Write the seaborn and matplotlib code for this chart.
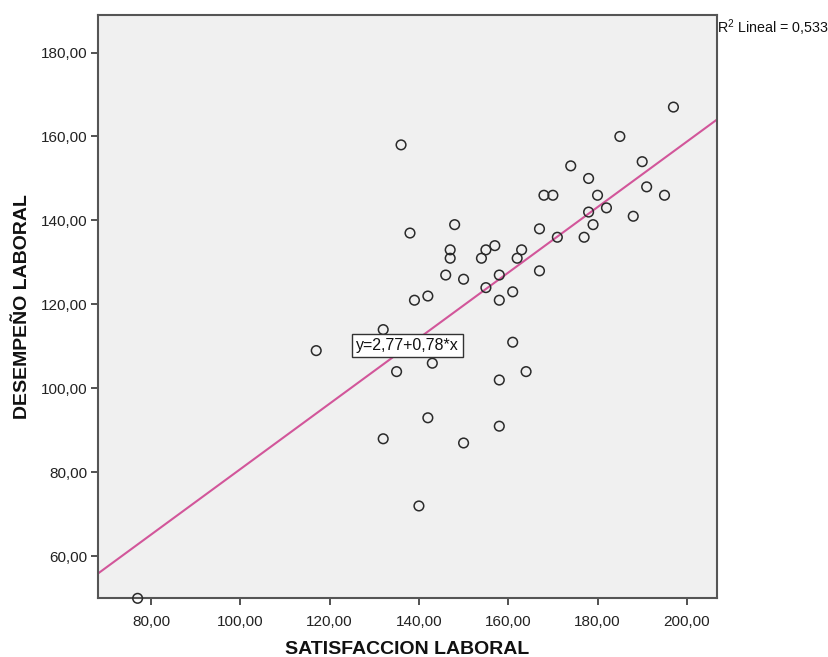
import numpy as np
import pandas as pd
import matplotlib
matplotlib.use("Agg")
import matplotlib.pyplot as plt
import seaborn as sns
from matplotlib.ticker import FuncFormatter

satisfaccion = [197, 185, 174, 190, 178, 168, 170, 180, 191, 195,
                178, 182, 188, 179, 167, 171, 177, 148, 138, 136,
                157, 155, 154, 147, 147, 163, 162, 158, 146, 167,
                150, 155, 161, 139, 142, 158, 132, 117, 135, 132,
                77, 161, 143, 164, 158, 142, 158, 150, 140]
desempeno = [167, 160, 153, 154, 150, 146, 146, 146, 148, 146,
             142, 143, 141, 139, 138, 136, 136, 139, 137, 158,
             134, 133, 131, 133, 131, 133, 131, 127, 127, 128,
             126, 124, 123, 121, 122, 121, 114, 109, 104, 88,
             50, 111, 106, 104, 102, 93, 91, 87, 72]

intercept = 2.77
slope = 0.78
r2 = "0,533"
x_ticks = [80, 100, 120, 140, 160, 180, 200]
y_ticks = [60, 80, 100, 120, 140, 160, 180]

df = pd.DataFrame({"SATISFACCION LABORAL": satisfaccion,
                   "DESEMPEÑO LABORAL": desempeno})

sns.set_style("ticks")
plt.rcParams["font.family"] = ["Liberation Sans", "DejaVu Sans"]

fig = plt.figure(figsize=(8.29, 6.57), dpi=100)
ax = fig.add_axes([0.1186, 0.0893, 0.746, 0.8883])
ax.set_facecolor("#F0F0F0")

xlim = (68.2, 206.7)
ylim = (50.0, 189.0)

# fit line
xs = np.array(xlim)
ax.plot(xs, intercept + slope * xs, color="#D2569A", lw=1.5, zorder=2)

sns.scatterplot(data=df, x="SATISFACCION LABORAL", y="DESEMPEÑO LABORAL",
                ax=ax, marker="o", s=48, facecolor="none",
                edgecolor="#2a2a2a", linewidth=1.1, zorder=3, clip_on=False)

ax.set_xlim(*xlim)
ax.set_ylim(*ylim)
ax.set_xticks(x_ticks)
ax.set_yticks(y_ticks)
fmt = FuncFormatter(lambda v, p: f"{v:.2f}".replace(".", ","))
ax.xaxis.set_major_formatter(fmt)
ax.yaxis.set_major_formatter(fmt)
ax.tick_params(axis="both", direction="out", length=5, width=1.2,
               color="#333333", labelsize=11, labelcolor="#222222")
ax.tick_params(axis="x", pad=7)
ax.tick_params(axis="y", pad=3)

for s in ax.spines.values():
    s.set_visible(True)
    s.set_color("#555555")
    s.set_linewidth(1.5)

ax.set_xlabel("SATISFACCION LABORAL", fontsize=14, fontweight="bold",
              labelpad=9, color="#111111")
ax.set_ylabel("DESEMPEÑO LABORAL", fontsize=14, fontweight="bold",
              labelpad=7, color="#111111")

ax.text(137.4, 110.2, "y=2,77+0,78*x", ha="center", va="center",
        fontsize=11.5, color="#111111", zorder=5,
        bbox=dict(boxstyle="square,pad=0.25", fc="white", ec="#333333", lw=1))

fig.text(0.8655, 0.958, r"R$^\mathregular{2}$ Lineal = " + r2, ha="left",
         va="center", fontsize=10.3, color="#111111")

fig.savefig("out.png", dpi=100)
